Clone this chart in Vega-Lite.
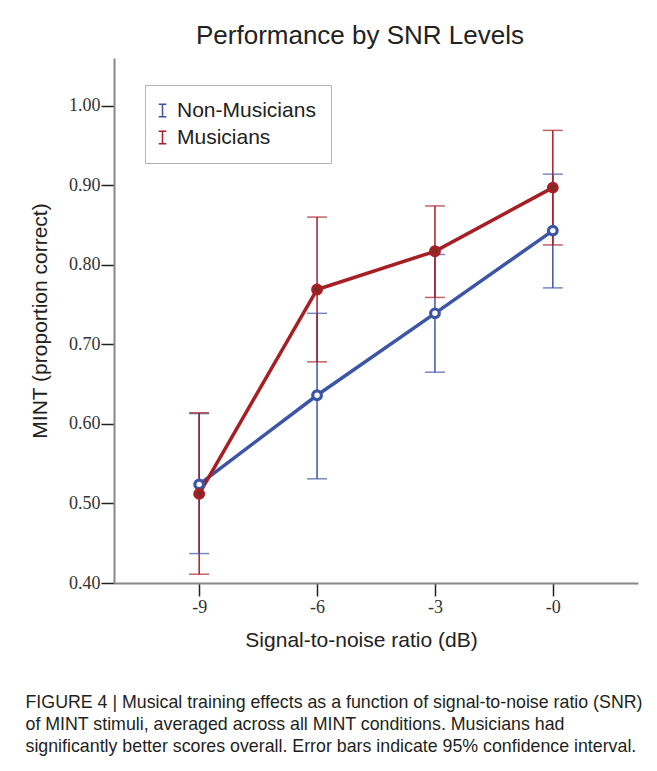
{
  "$schema": "https://vega.github.io/schema/vega-lite/v6.json",
  "padding": {"left": 25, "top": 23, "right": 5, "bottom": 5},
  "background": "white",
  "title": {
    "text": [
      "FIGURE 4 | Musical training effects as a function of signal-to-noise ratio (SNR)",
      "of MINT stimuli, averaged across all MINT conditions. Musicians had",
      "significantly better scores overall. Error bars indicate 95% confidence interval."
    ],
    "orient": "bottom",
    "anchor": "start",
    "frame": "bounds",
    "font": "Liberation Sans",
    "fontSize": 17.8,
    "fontWeight": "normal",
    "color": "#231f20",
    "lineHeight": 22,
    "offset": 44,
    "dx": -4
  },
  "data": {
    "values": [
      {"snr": "-9", "group": "Non-Musicians", "mean": 0.524, "lo": 0.437, "hi": 0.613},
      {"snr": "-6", "group": "Non-Musicians", "mean": 0.636, "lo": 0.531, "hi": 0.739},
      {"snr": "-3", "group": "Non-Musicians", "mean": 0.739, "lo": 0.665, "hi": 0.813},
      {"snr": "-0", "group": "Non-Musicians", "mean": 0.843, "lo": 0.771, "hi": 0.914},
      {"snr": "-9", "group": "Musicians", "mean": 0.512, "lo": 0.411, "hi": 0.614},
      {"snr": "-6", "group": "Musicians", "mean": 0.769, "lo": 0.678, "hi": 0.860},
      {"snr": "-3", "group": "Musicians", "mean": 0.817, "lo": 0.759, "hi": 0.874},
      {"snr": "-0", "group": "Musicians", "mean": 0.897, "lo": 0.825, "hi": 0.969}
    ]
  },
  "vconcat": [
    {
      "width": 524,
      "height": 525,
      "title": {
        "text": "Performance by SNR Levels",
        "font": "Liberation Sans",
        "fontSize": 26,
        "fontWeight": "normal",
        "color": "#222222",
        "anchor": "middle",
        "offset": 9,
        "dx": -16
      },
      "encoding": {
        "x": {
          "field": "snr",
          "type": "ordinal",
          "sort": ["-9", "-6", "-3", "-0"],
          "scale": {"type": "point", "padding": 0.7225},
          "axis": {"title": "Signal-to-noise ratio (dB)", "titleX": 247}
        },
        "color": {
          "field": "group",
          "type": "nominal",
          "scale": {"domain": ["Non-Musicians", "Musicians"], "range": ["#3d55a5", "#a61f24"]},
          "legend": {
            "title": null,
            "orient": "none",
            "legendX": 31,
            "legendY": 27,
            "symbolType": "M-0.6,-1H0.6M0,-1V1M-0.6,1H0.6",
            "symbolSize": 160,
            "symbolStrokeWidth": 1.5,
            "symbolOffset": -8,
            "labelFont": "Liberation Sans",
            "labelFontSize": 21,
            "labelColor": "#222222",
            "labelOffset": 4,
            "rowPadding": 5,
            "padding": 15,
            "strokeColor": "#b5b5b5",
            "fillColor": "white",
            "encode": {
              "symbols": {
                "update": {
                  "stroke": {"scale": "color", "field": "value"},
                  "fill": {"value": "transparent"},
                  "strokeWidth": {"value": 1.5}
                }
              }
            }
          }
        }
      },
      "layer": [
        {
          "mark": {"type": "rule", "strokeWidth": 1.5},
          "encoding": {
            "y": {
              "field": "lo",
              "type": "quantitative",
              "title": "MINT (proportion correct)",
              "scale": {"domain": [0.4, 1.06], "zero": false, "nice": false},
              "axis": {"values": [0.4, 0.5, 0.6, 0.7, 0.8, 0.9, 1.0], "format": ".2f"}
            },
            "y2": {"field": "hi"}
          }
        },
        {
          "mark": {"type": "tick", "size": 20, "thickness": 1.5},
          "encoding": {"y": {"field": "lo", "type": "quantitative", "title": "MINT (proportion correct)"}}
        },
        {
          "mark": {"type": "tick", "size": 20, "thickness": 1.5},
          "encoding": {"y": {"field": "hi", "type": "quantitative", "title": "MINT (proportion correct)"}}
        },
        {
          "mark": {"type": "line", "strokeWidth": 3.5},
          "encoding": {"y": {"field": "mean", "type": "quantitative", "title": "MINT (proportion correct)"}}
        },
        {
          "mark": {"type": "point", "filled": false, "strokeWidth": 3.2, "size": 75, "opacity": 1},
          "encoding": {
            "y": {"field": "mean", "type": "quantitative", "title": "MINT (proportion correct)"},
            "fill": {
              "field": "group",
              "type": "nominal",
              "scale": {"domain": ["Non-Musicians", "Musicians"], "range": ["#ffffff", "#7a2a22"]},
              "legend": null
            }
          }
        }
      ]
    }
  ],
  "config": {
    "view": {"stroke": null},
    "font": "Liberation Sans",
    "axis": {
      "domainColor": "#888888",
      "domainWidth": 2,
      "tickColor": "#222222",
      "tickWidth": 1.5,
      "tickSize": 13,
      "labelFont": "Liberation Serif",
      "labelFontSize": 18,
      "labelColor": "#333333",
      "titleFont": "Liberation Sans",
      "titleFontSize": 21,
      "titleFontWeight": "normal",
      "titleColor": "#222222",
      "grid": false
    },
    "axisX": {"labelPadding": 2, "titlePadding": 13, "labelAngle": 0},
    "axisY": {"labelPadding": 1, "titlePadding": 18}
  }
}
